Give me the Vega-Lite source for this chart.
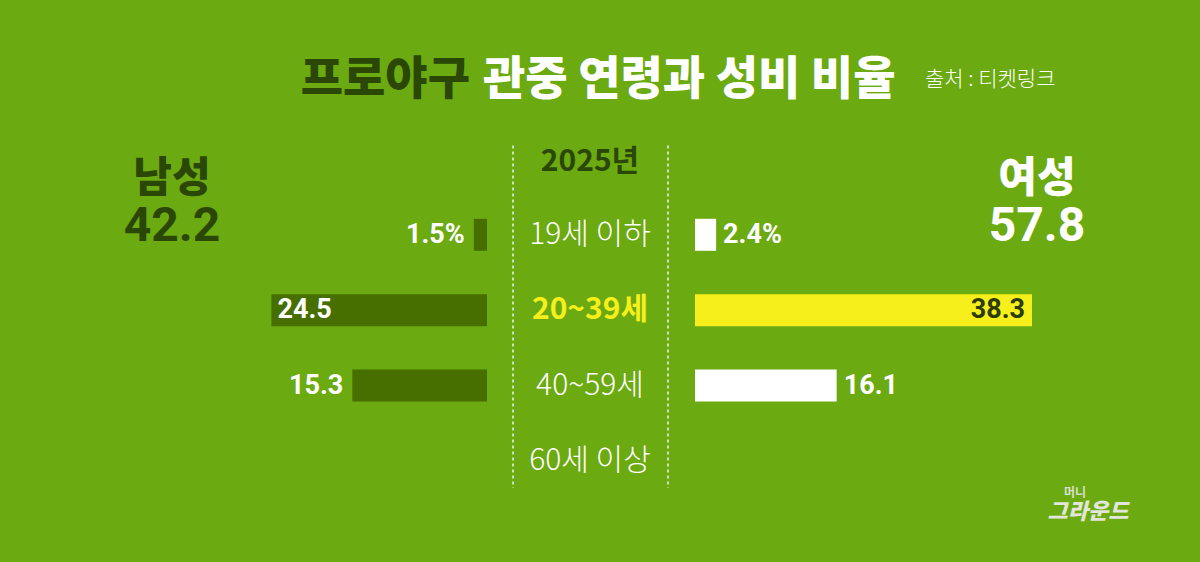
{
  "$schema": "https://vega.github.io/schema/vega-lite/v6.json",
  "width": 1200,
  "height": 562,
  "autosize": {"type": "fit", "contains": "padding"},
  "padding": 0,
  "background": "#6baa10",
  "config": {"view": {"stroke": null}},
  "datasets": {
    "ages": [
      {"age": "19세 이하", "male": 1.5, "female": 2.4, "maleLabel": "1.5%", "femaleLabel": "2.4%"},
      {"age": "20~39세", "male": 24.5, "female": 38.3, "maleLabel": "24.5", "femaleLabel": "38.3"},
      {"age": "40~59세", "male": 15.3, "female": 16.1, "maleLabel": "15.3", "femaleLabel": "16.1"},
      {"age": "60세 이상", "male": null, "female": null, "maleLabel": null, "femaleLabel": null}
    ],
    "totals": [
      {"sex": "남성", "total": "42.2"},
      {"sex": "여성", "total": "57.8"}
    ]
  },
  "layer": [
    {
      "data": {"name": "ages"},
      "transform": [{"filter": "isValid(datum.male)"}],
      "mark": {"type": "bar", "height": 32, "color": "#466f00"},
      "encoding": {
        "y": {"field": "age", "type": "nominal", "axis": null,
              "scale": {"type": "point", "padding": 0, "domain": ["title", "header", "19세 이하", "20~39세", "40~59세", "60세 이상"], "range": [84, 461]}},
        "x": {"field": "male", "type": "quantitative", "axis": null, "scale": {"domain": [0, 55.34], "range": [487, 0]}}
      }
    },
    {
      "data": {"name": "ages"},
      "transform": [{"filter": "isValid(datum.female)"}],
      "mark": {"type": "bar", "height": 32},
      "encoding": {
        "y": {"field": "age", "type": "nominal", "axis": null,
              "scale": {"type": "point", "padding": 0, "domain": ["title", "header", "19세 이하", "20~39세", "40~59세", "60세 이상"], "range": [84, 461]}},
        "x": {"field": "female", "type": "quantitative", "axis": null, "scale": {"domain": [0, 57.39], "range": [695, 1200]}},
        "color": {"condition": {"test": "datum.age === '20~39세'", "value": "#f6ef1c"}, "value": "#ffffff"}
      }
    },
    {
      "data": {"name": "ages"},
      "transform": [{"filter": "isValid(datum.male) && datum.male < 20"}],
      "mark": {"type": "text", "align": "right", "baseline": "middle", "dx": -9, "font": "Roboto", "fontWeight": "bold", "fontSize": 27, "color": "#ffffff"},
      "encoding": {
        "y": {"field": "age", "type": "nominal", "axis": null,
              "scale": {"type": "point", "padding": 0, "domain": ["title", "header", "19세 이하", "20~39세", "40~59세", "60세 이상"], "range": [84, 461]}},
        "x": {"field": "male", "type": "quantitative", "axis": null, "scale": {"domain": [0, 55.34], "range": [487, 0]}},
        "text": {"field": "maleLabel"}
      }
    },
    {
      "data": {"name": "ages"},
      "transform": [{"filter": "isValid(datum.male) && datum.male >= 20"}],
      "mark": {"type": "text", "align": "left", "baseline": "middle", "dx": 6, "font": "Roboto", "fontWeight": "bold", "fontSize": 27, "color": "#ffffff"},
      "encoding": {
        "y": {"field": "age", "type": "nominal", "axis": null,
              "scale": {"type": "point", "padding": 0, "domain": ["title", "header", "19세 이하", "20~39세", "40~59세", "60세 이상"], "range": [84, 461]}},
        "x": {"field": "male", "type": "quantitative", "axis": null, "scale": {"domain": [0, 55.34], "range": [487, 0]}},
        "text": {"field": "maleLabel"}
      }
    },
    {
      "data": {"name": "ages"},
      "transform": [{"filter": "isValid(datum.female) && datum.female < 20"}],
      "mark": {"type": "text", "align": "left", "baseline": "middle", "dx": 7, "font": "Roboto", "fontWeight": "bold", "fontSize": 27, "color": "#ffffff"},
      "encoding": {
        "y": {"field": "age", "type": "nominal", "axis": null,
              "scale": {"type": "point", "padding": 0, "domain": ["title", "header", "19세 이하", "20~39세", "40~59세", "60세 이상"], "range": [84, 461]}},
        "x": {"field": "female", "type": "quantitative", "axis": null, "scale": {"domain": [0, 57.39], "range": [695, 1200]}},
        "text": {"field": "femaleLabel"}
      }
    },
    {
      "data": {"name": "ages"},
      "transform": [{"filter": "isValid(datum.female) && datum.female >= 20"}],
      "mark": {"type": "text", "align": "right", "baseline": "middle", "dx": -7, "font": "Roboto", "fontWeight": "bold", "fontSize": 27, "color": "#2b3d05"},
      "encoding": {
        "y": {"field": "age", "type": "nominal", "axis": null,
              "scale": {"type": "point", "padding": 0, "domain": ["title", "header", "19세 이하", "20~39세", "40~59세", "60세 이상"], "range": [84, 461]}},
        "x": {"field": "female", "type": "quantitative", "axis": null, "scale": {"domain": [0, 57.39], "range": [695, 1200]}},
        "text": {"field": "femaleLabel"}
      }
    },
    {
      "data": {"name": "ages"},
      "transform": [{"filter": "datum.age !== '20~39세'"}],
      "mark": {"type": "text", "align": "center", "baseline": "middle", "font": "Noto Sans CJK KR", "fontWeight": 300, "fontSize": 30, "color": "#ffffff"},
      "encoding": {
        "y": {"field": "age", "type": "nominal", "axis": null,
              "scale": {"type": "point", "padding": 0, "domain": ["title", "header", "19세 이하", "20~39세", "40~59세", "60세 이상"], "range": [84, 461]}},
        "x": {"datum": "연령", "type": "nominal", "axis": null, "scale": {"type": "point", "padding": 0, "domain": ["남성", "연령", "여성"], "range": [172, 1008]}},
        "text": {"field": "age"}
      }
    },
    {
      "data": {"name": "ages"},
      "transform": [{"filter": "datum.age === '20~39세'"}],
      "mark": {"type": "text", "align": "center", "baseline": "middle", "font": "Noto Sans CJK KR", "fontWeight": "bold", "fontSize": 30, "color": "#f6ef1c"},
      "encoding": {
        "y": {"field": "age", "type": "nominal", "axis": null,
              "scale": {"type": "point", "padding": 0, "domain": ["title", "header", "19세 이하", "20~39세", "40~59세", "60세 이상"], "range": [84, 461]}},
        "x": {"datum": "연령", "type": "nominal", "axis": null, "scale": {"type": "point", "padding": 0, "domain": ["남성", "연령", "여성"], "range": [172, 1008]}},
        "text": {"field": "age"}
      }
    },
    {
      "data": {"values": [{"year": "2025년"}]},
      "mark": {"type": "text", "align": "center", "baseline": "middle", "dy": 3, "font": "Noto Sans CJK KR", "fontWeight": "bold", "fontSize": 30, "color": "#2a4705"},
      "encoding": {
        "y": {"datum": "header", "type": "nominal", "axis": null,
              "scale": {"type": "point", "padding": 0, "domain": ["title", "header", "19세 이하", "20~39세", "40~59세", "60세 이상"], "range": [84, 461]}},
        "x": {"datum": "연령", "type": "nominal", "axis": null, "scale": {"type": "point", "padding": 0, "domain": ["남성", "연령", "여성"], "range": [172, 1008]}},
        "text": {"field": "year"}
      }
    },
    {
      "data": {"values": [{"t": "프로야구"}]},
      "mark": {"type": "text", "align": "right", "baseline": "middle", "dx": -120, "dy": -4, "font": "Noto Sans CJK KR", "fontWeight": 900, "fontSize": 46, "color": "#2a4705"},
      "encoding": {
        "y": {"datum": "title", "type": "nominal", "axis": null,
              "scale": {"type": "point", "padding": 0, "domain": ["title", "header", "19세 이하", "20~39세", "40~59세", "60세 이상"], "range": [84, 461]}},
        "x": {"datum": "연령", "type": "nominal", "axis": null, "scale": {"type": "point", "padding": 0, "domain": ["남성", "연령", "여성"], "range": [172, 1008]}},
        "text": {"field": "t"}
      }
    },
    {
      "data": {"values": [{"t": "관중 연령과 성비 비율"}]},
      "mark": {"type": "text", "align": "left", "baseline": "middle", "dx": -107, "dy": -4, "font": "Noto Sans CJK KR", "fontWeight": 900, "fontSize": 46, "color": "#ffffff"},
      "encoding": {
        "y": {"datum": "title", "type": "nominal", "axis": null,
              "scale": {"type": "point", "padding": 0, "domain": ["title", "header", "19세 이하", "20~39세", "40~59세", "60세 이상"], "range": [84, 461]}},
        "x": {"datum": "연령", "type": "nominal", "axis": null, "scale": {"type": "point", "padding": 0, "domain": ["남성", "연령", "여성"], "range": [172, 1008]}},
        "text": {"field": "t"}
      }
    },
    {
      "data": {"values": [{"t": "출처 : 티켓링크"}]},
      "mark": {"type": "text", "align": "left", "baseline": "middle", "dx": 335, "dy": -4, "font": "Noto Sans CJK KR", "fontWeight": 300, "fontSize": 21, "color": "#ffffff"},
      "encoding": {
        "y": {"datum": "title", "type": "nominal", "axis": null,
              "scale": {"type": "point", "padding": 0, "domain": ["title", "header", "19세 이하", "20~39세", "40~59세", "60세 이상"], "range": [84, 461]}},
        "x": {"datum": "연령", "type": "nominal", "axis": null, "scale": {"type": "point", "padding": 0, "domain": ["남성", "연령", "여성"], "range": [172, 1008]}},
        "text": {"field": "t"}
      }
    },
    {
      "data": {"name": "totals"},
      "mark": {"type": "text", "align": "center", "baseline": "middle", "dy": 20, "font": "Noto Sans CJK KR", "fontWeight": 900, "fontSize": 42},
      "encoding": {
        "y": {"datum": "header", "type": "nominal", "axis": null,
              "scale": {"type": "point", "padding": 0, "domain": ["title", "header", "19세 이하", "20~39세", "40~59세", "60세 이상"], "range": [84, 461]}},
        "x": {"field": "sex", "type": "nominal", "axis": null, "scale": {"type": "point", "padding": 0, "domain": ["남성", "여성"], "range": [172, 1037]}},
        "color": {"condition": {"test": "datum.sex === '남성'", "value": "#2a4705"}, "value": "#ffffff"},
        "text": {"field": "sex"}
      }
    },
    {
      "data": {"name": "totals"},
      "mark": {"type": "text", "align": "center", "baseline": "middle", "dy": 68, "font": "Roboto", "fontWeight": "bold", "fontSize": 48},
      "encoding": {
        "y": {"datum": "header", "type": "nominal", "axis": null,
              "scale": {"type": "point", "padding": 0, "domain": ["title", "header", "19세 이하", "20~39세", "40~59세", "60세 이상"], "range": [84, 461]}},
        "x": {"field": "sex", "type": "nominal", "axis": null, "scale": {"type": "point", "padding": 0, "domain": ["남성", "여성"], "range": [172, 1037]}},
        "color": {"condition": {"test": "datum.sex === '남성'", "value": "#2a4705"}, "value": "#ffffff"},
        "text": {"field": "total"}
      }
    },
    {
      "data": {"values": [{}]},
      "mark": {"type": "rule", "color": "#ffffff", "strokeWidth": 1.5, "strokeDash": [3, 3], "opacity": 0.9, "xOffset": -77, "yOffset": -14, "y2Offset": 27},
      "encoding": {
        "y": {"datum": "header", "type": "nominal", "axis": null,
              "scale": {"type": "point", "padding": 0, "domain": ["title", "header", "19세 이하", "20~39세", "40~59세", "60세 이상"], "range": [84, 461]}},
        "y2": {"datum": "60세 이상"},
        "x": {"datum": "연령", "type": "nominal", "axis": null, "scale": {"type": "point", "padding": 0, "domain": ["남성", "연령", "여성"], "range": [172, 1008]}}
      }
    },
    {
      "data": {"values": [{}]},
      "mark": {"type": "rule", "color": "#ffffff", "strokeWidth": 1.5, "strokeDash": [3, 3], "opacity": 0.9, "xOffset": 78, "yOffset": -14, "y2Offset": 27},
      "encoding": {
        "y": {"datum": "header", "type": "nominal", "axis": null,
              "scale": {"type": "point", "padding": 0, "domain": ["title", "header", "19세 이하", "20~39세", "40~59세", "60세 이상"], "range": [84, 461]}},
        "y2": {"datum": "60세 이상"},
        "x": {"datum": "연령", "type": "nominal", "axis": null, "scale": {"type": "point", "padding": 0, "domain": ["남성", "연령", "여성"], "range": [172, 1008]}}
      }
    },
    {
      "data": {"values": [{"t": "머니"}]},
      "mark": {"type": "text", "align": "center", "baseline": "middle", "dx": 67, "dy": 32, "font": "Noto Sans CJK KR", "fontWeight": "bold", "fontSize": 12, "color": "#d9dfd0"},
      "encoding": {
        "y": {"datum": "60세 이상", "type": "nominal", "axis": null,
              "scale": {"type": "point", "padding": 0, "domain": ["title", "header", "19세 이하", "20~39세", "40~59세", "60세 이상"], "range": [84, 461]}},
        "x": {"datum": "여성", "type": "nominal", "axis": null, "scale": {"type": "point", "padding": 0, "domain": ["남성", "연령", "여성"], "range": [172, 1008]}},
        "text": {"field": "t"}
      }
    },
    {
      "data": {"values": [{"t": "그라운드"}]},
      "mark": {"type": "text", "align": "center", "baseline": "middle", "dx": 80, "dy": 51, "font": "Noto Sans CJK KR", "fontWeight": 900, "fontStyle": "italic", "fontSize": 22, "color": "#e2e6da"},
      "encoding": {
        "y": {"datum": "60세 이상", "type": "nominal", "axis": null,
              "scale": {"type": "point", "padding": 0, "domain": ["title", "header", "19세 이하", "20~39세", "40~59세", "60세 이상"], "range": [84, 461]}},
        "x": {"datum": "여성", "type": "nominal", "axis": null, "scale": {"type": "point", "padding": 0, "domain": ["남성", "연령", "여성"], "range": [172, 1008]}},
        "text": {"field": "t"}
      }
    }
  ],
  "resolve": {"scale": {"x": "independent"}}
}
